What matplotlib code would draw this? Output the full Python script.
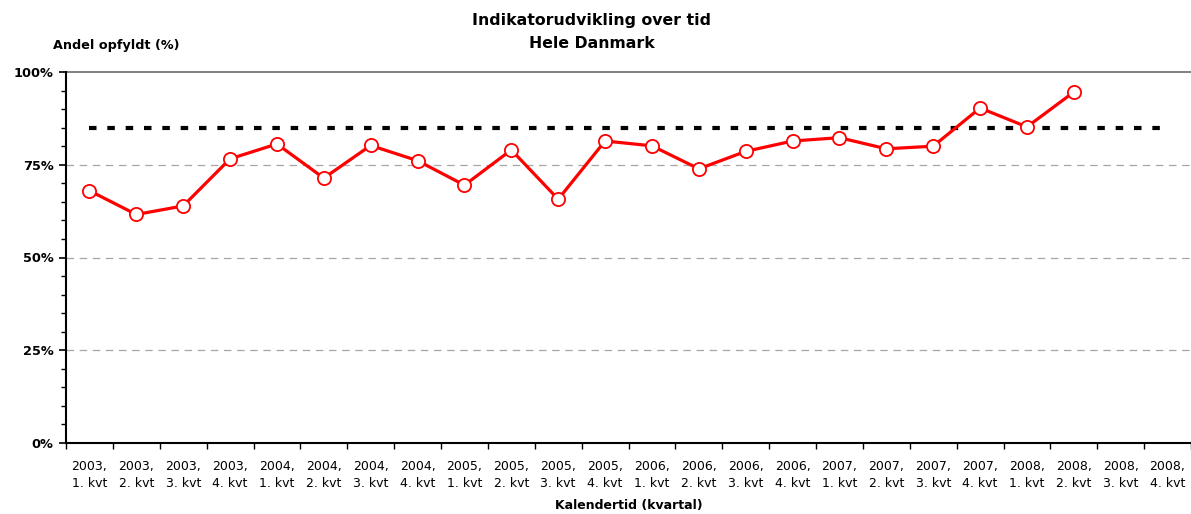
import matplotlib
matplotlib.use("Agg")
import matplotlib.pyplot as plt
import numpy as np
from matplotlib.ticker import MultipleLocator, FixedLocator, NullFormatter

years = ["2003"] * 4 + ["2004"] * 4 + ["2005"] * 4 + ["2006"] * 4 + ["2007"] * 4 + ["2008"] * 4
quarters = ["1. kvt", "2. kvt", "3. kvt", "4. kvt"] * 6
categories = [f"{y},\n{q}" for y, q in zip(years, quarters)]
values = [68.0, 61.6, 63.9, 76.6, 80.6, 71.4, 80.2, 76.1, 69.5, 79.0, 65.7, 81.4,
          80.1, 73.9, 78.6, 81.4, 82.3, 79.3, 80.0, 90.3, 85.2, 94.6]
target = 85.0

plt.rcParams['font.family'] = ['DejaVu Sans']

fig = plt.figure(figsize=(11.91, 5.14), dpi=100)
ax = fig.add_axes([66 / 1191, 1 - 443 / 514, 1 - 66 / 1191, (443 - 72) / 514])

n = len(categories)
centers = np.arange(n) + 0.5
ax.set_xlim(0, n)
ax.set_ylim(0, 100)

# gridlines
for g in [25, 50, 75]:
    ax.axhline(g, color="#a6a6a6", lw=0.9, dashes=(6, 4.5), zorder=1)
ax.axhline(100, color="#808080", lw=1.4, zorder=1, clip_on=False)

# target line
ax.plot([centers[0], centers[-1]], [target, target], color="black", lw=3.0,
        dashes=(1.8, 2.6), zorder=2, solid_capstyle="butt", dash_capstyle="butt")

# data line
ax.plot(centers[:len(values)], values, color="#ff0000", lw=2.3, marker="o",
        markersize=9.5, markerfacecolor="white", markeredgecolor="#ff0000",
        markeredgewidth=1.3, zorder=3)

# spines
for s in ["top", "right"]:
    ax.spines[s].set_visible(False)
ax.spines["left"].set_linewidth(1.5)
ax.spines["bottom"].set_linewidth(1.5)

# y ticks
ax.yaxis.set_major_locator(FixedLocator([0, 25, 50, 75, 100]))
ax.set_yticklabels(["0%", "25%", "50%", "75%", "100%"], fontsize=9.3, fontweight="bold")
ax.yaxis.set_minor_locator(MultipleLocator(5))
ax.tick_params(axis="y", which="major", direction="out", length=5, width=1.2, pad=4)
ax.tick_params(axis="y", which="minor", direction="out", length=3.5, width=1.0)

# x ticks: marks at boundaries, labels at centers
ax.xaxis.set_major_locator(FixedLocator(np.arange(n + 1)))
ax.xaxis.set_major_formatter(NullFormatter())
ax.xaxis.set_minor_locator(FixedLocator(centers))
ax.set_xticklabels(categories, minor=True, fontsize=9, linespacing=1.4)
ax.tick_params(axis="x", which="major", direction="out", length=4, width=1.0)
ax.tick_params(axis="x", which="minor", length=0, pad=12)

ax.set_xlabel("Kalendertid (kvartal)", fontsize=9, fontweight="bold", labelpad=7)

fig.text(53 / 1191, 1 - 46 / 514, "Andel opfyldt (%)", fontsize=9.2, fontweight="bold",
         ha="left", va="center")
fig.text(592 / 1191, 1 - 20 / 514, "Indikatorudvikling over tid", fontsize=11.3,
         fontweight="bold", ha="center", va="center")
fig.text(592 / 1191, 1 - 43 / 514, "Hele Danmark", fontsize=11.3,
         fontweight="bold", ha="center", va="center")

fig.savefig("out.png", dpi=100, facecolor="white")
